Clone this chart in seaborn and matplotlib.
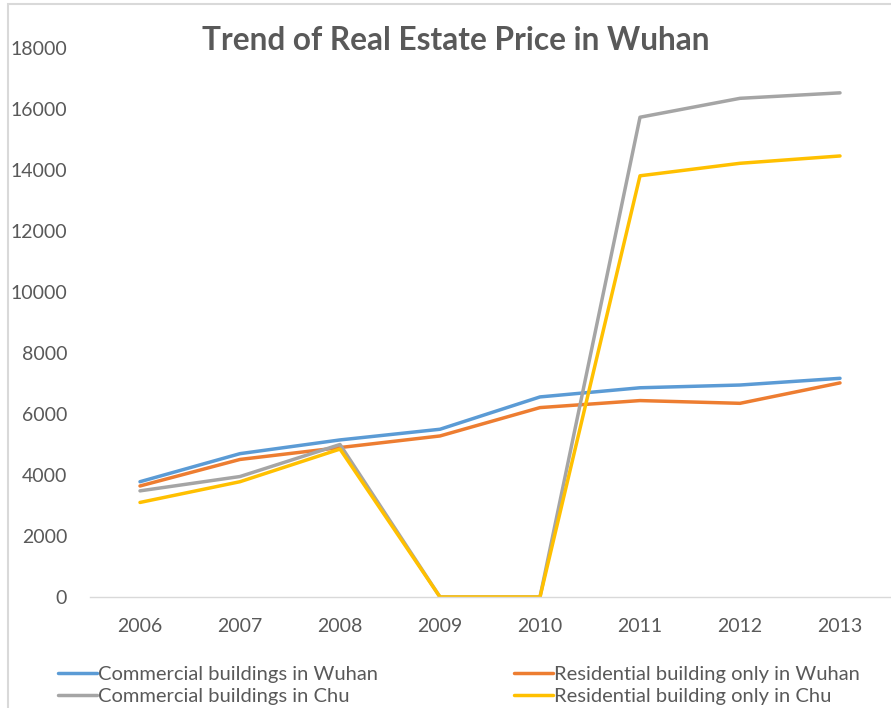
import matplotlib
matplotlib.use('Agg')
import matplotlib.pyplot as plt
import matplotlib.patches as mpatches
import pandas as pd
import seaborn as sns

years = ['2006', '2007', '2008', '2009', '2010', '2011', '2012', '2013']
commercial_wuhan = [3780, 4700, 5150, 5500, 6560, 6860, 6950, 7170]
residential_wuhan = [3640, 4510, 4900, 5280, 6210, 6440, 6350, 7020]
commercial_chu = [3480, 3950, 5000, 0, 0, 15730, 16350, 16530]
residential_chu = [3100, 3780, 4850, 0, 0, 13810, 14220, 14460]

names = ['Commercial buildings in Wuhan', 'Residential building only in Wuhan',
         'Commercial buildings in Chu', 'Residential building only in Chu']
colors = ['#5B9BD5', '#ED7D31', '#A5A5A5', '#FFC000']

df = pd.DataFrame({'year': years * 4,
                   'price': commercial_wuhan + residential_wuhan + commercial_chu + residential_chu,
                   'series': [n for n in names for _ in years]})

sns.set_style('white')
plt.rcParams['font.family'] = ['Lato', 'DejaVu Sans']

fig = plt.figure(figsize=(8.91, 7.08), dpi=100)
ax = fig.add_axes([90 / 891, 111 / 708, 800 / 891, 549 / 708])

sns.lineplot(data=df, x='year', y='price', hue='series', hue_order=names,
             palette=colors, linewidth=2.5, ax=ax, legend=False, sort=False)

ax.set_xlim(-0.5, 7.5)
ax.set_ylim(0, 18000)
ax.set_yticks(range(0, 18001, 2000))
ax.set_xlabel('')
ax.set_ylabel('')
for s in ['top', 'right', 'left']:
    ax.spines[s].set_visible(False)
ax.spines['bottom'].set_color('#d9d9d9')
ax.spines['bottom'].set_linewidth(1)
ax.tick_params(axis='both', length=0, labelsize=14, colors='#595959')
ax.tick_params(axis='y', pad=16.5)
ax.tick_params(axis='x', pad=15)
ax.grid(False)

fig.text(456 / 891, 1 - 40 / 708, 'Trend of Real Estate Price in Wuhan',
         ha='center', va='center', fontsize=22.8, fontweight='bold', color='#595959')

# legend is filled column by column, so reorder to read row by row
order = [0, 2, 1, 3]
handles = [plt.Line2D([], [], color=colors[i], linewidth=2.5) for i in order]
labels = [names[i] for i in order]
fig.legend(handles, labels, loc='upper left', bbox_to_anchor=(58 / 891, 1 - 666 / 708),
           ncol=2, frameon=False, fontsize=14.5, labelcolor='#595959',
           handlelength=1.95, handletextpad=0.05, columnspacing=6.75, labelspacing=0.25,
           borderaxespad=0, borderpad=0)

fig.patches.append(mpatches.Rectangle((8 / 891, -0.1), 1.2, 1.1 - 4 / 708,
                                      transform=fig.transFigure, fill=False,
                                      edgecolor='#d9d9d9', linewidth=1.5))

fig.savefig('out.png', dpi=100)
